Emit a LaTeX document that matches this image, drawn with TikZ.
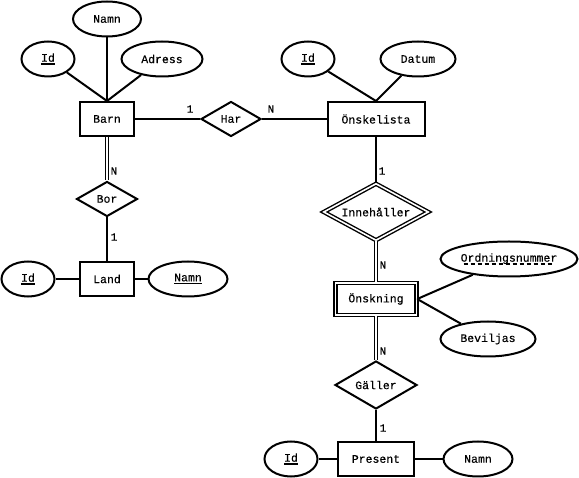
\documentclass[tikz,border=0pt]{standalone}
\usepackage{fontspec}
\setmainfont{Liberation Mono}[FakeBold=0.3]
\usetikzlibrary{shapes.geometric}
\tikzset{
  every node/.style={font=\fontsize{11.5}{13}\selectfont},
  ln/.style={line width=2pt},
  dbl/.style={line width=1.4pt, double, double distance=1.6pt},
  ent/.style={draw, ln, rectangle, inner sep=0pt},
  attr/.style={draw, ln, ellipse, inner sep=0pt},
  rel/.style={draw, ln, diamond, inner sep=0pt, aspect=1.8},
  card/.style={inner sep=0pt, font=\fontsize{11}{13}\selectfont},
}
\newcommand{\keyul}[1]{\setbox0=\hbox{#1}\hbox{\rlap{\rule[-3pt]{\wd0}{1.6pt}}\box0}}
\newcommand{\dashul}[1]{\setbox0=\hbox{#1}\hbox{\rlap{\hbox to \wd0{\cleaders\hbox{\rule[-3pt]{4pt}{1.6pt}\hskip3pt}\hfil}}\box0}}
\begin{document}
\begin{tikzpicture}[x=1pt,y=-1pt]
\useasboundingbox (0,0) rectangle (579,478);
% Barn
\node[ent, minimum width=54pt, minimum height=34pt] (barn) at (107,119) {Barn};
\node[attr, minimum width=68pt, minimum height=35pt] (namn1) at (107,19) {Namn};
\node[attr, minimum width=53pt, minimum height=35pt] (id1) at (48,59) {\keyul{Id}};
\node[attr, minimum width=81pt, minimum height=35pt] (adr) at (162,59) {Adress};
\draw[ln] (namn1) -- (barn.north);
\draw[ln] (id1) -- (barn.north);
\draw[ln] (adr) -- (barn.north);
% Har
\node[rel, minimum width=60pt, minimum height=35pt] (har) at (231,119) {Har};
% Önskelista
\node[ent, minimum width=97pt, minimum height=34pt] (onsk) at (376,119) {Önskelista};
\node[attr, minimum width=53pt, minimum height=35pt] (id2) at (308,59) {\keyul{Id}};
\node[attr, minimum width=75pt, minimum height=35pt] (datum) at (418,59) {Datum};
\draw[ln] (id2) -- (onsk.north);
\draw[ln] (datum) -- (onsk.north);
\draw[ln] (barn.east) -- (har.west);
\draw[ln] (har.east) -- (onsk.west);
\node[card] (c1) at (190,109) {1};
\node[card] (c2) at (271,109) {N};
% Bor / Land
\node[rel, minimum width=61pt, minimum height=35pt] (bor) at (107,199) {Bor};
\node[ent, minimum width=54pt, minimum height=34pt] (land) at (107,279) {Land};
\node[attr, minimum width=53pt, minimum height=35pt] (id3) at (28,279) {\keyul{Id}};
\node[attr, minimum width=79pt, minimum height=35pt] (namn3) at (188,279) {\keyul{Namn}};
\draw[dbl] (barn.south) -- (bor.north);
\draw[ln] (bor.south) -- (land.north);
\draw[ln] (id3) -- (land);
\draw[ln] (namn3) -- (land);
\node[card] (c3) at (114,171) {N};
\node[card] (c4) at (114,237) {1};
% Innehåller / Önskning
\node[rel, dbl, minimum width=105pt, minimum height=57pt] (inn) at (376,212) {Innehåller};
\node[ent, dbl, minimum width=81pt, minimum height=32pt] (onskn) at (376,299) {Önskning};
\node[attr, minimum width=137pt, minimum height=35pt] (ord) at (509,259) {\dashul{Ordningsnummer}};
\node[attr, minimum width=95pt, minimum height=35pt] (bev) at (488,339) {Beviljas};
\draw[ln] (onsk.south) -- (inn.north);
\draw[dbl] (inn.south) -- (onskn.north);
\draw[ln] (onskn.east) -- (ord);
\draw[ln] (onskn.east) -- (bev);
\node[card] (c5) at (382,171) {1};
\node[card] (c6) at (383,265) {N};
% Gäller / Present
\node[rel, minimum width=82pt, minimum height=48pt] (gal) at (376,385) {Gäller};
\node[ent, minimum width=76pt, minimum height=34pt] (pres) at (376,459) {Present};
\node[attr, minimum width=53pt, minimum height=35pt] (id4) at (291,459) {\keyul{Id}};
\node[attr, minimum width=69pt, minimum height=35pt] (namn4) at (478,459) {Namn};
\draw[dbl] (onskn.south) -- (gal.north);
\draw[ln] (gal.south) -- (pres.north);
\draw[ln] (id4) -- (pres);
\draw[ln] (namn4) -- (pres);
\node[card] (c7) at (383,351) {N};
\node[card] (c8) at (383,428) {1};
\end{tikzpicture}
\end{document}
